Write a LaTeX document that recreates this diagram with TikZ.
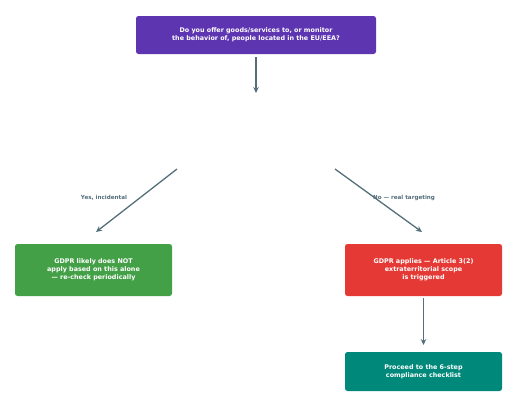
\documentclass[tikz,border=0pt]{standalone}
\usepackage{fontspec}
\setmainfont{DejaVu Sans}
\usetikzlibrary{arrows.meta}
\definecolor{cpurple}{HTML}{5E35B1}
\definecolor{cgreen}{HTML}{43A047}
\definecolor{cred}{HTML}{E53935}
\definecolor{cteal}{HTML}{00897B}
\definecolor{cedge}{HTML}{546E7A}
\tikzset{
  box/.style={rectangle, rounded corners=2.5pt, text=white, font=\fontsize{6.4}{8}\selectfont\bfseries, align=center, inner sep=0pt},
  conn/.style={draw=cedge, line width=1.3pt, -{Stealth[length=6pt,width=5.5pt]}},
  elabel/.style={text=cedge, font=\fontsize{5.6}{6.5}\selectfont\bfseries}
}
\begin{document}
\begin{tikzpicture}[x=1pt,y=-1pt]
\useasboundingbox (0,0) rectangle (512,405);
\node[box, fill=cpurple, minimum width=240pt, minimum height=38pt] (q) at (256,35) {Do you offer goods/services to, or monitor\\the behavior of, people located in the EU/EEA?};
\node[box, fill=cgreen, minimum width=157pt, minimum height=52pt] (no) at (93.5,270) {GDPR likely does NOT\\apply based on this alone\\— re-check periodically};
\node[box, fill=cred, minimum width=157pt, minimum height=52pt] (yes) at (423.5,270) {GDPR applies — Article 3(2)\\extraterritorial scope\\is triggered};
\node[box, fill=cteal, minimum width=157pt, minimum height=39pt] (step) at (423.5,371.5) {Proceed to the 6-step\\compliance checklist};
\coordinate (qend) at (256,93);
\coordinate (ls) at (177,169);
\coordinate (le) at (96,232);
\coordinate (rs) at (335,169);
\coordinate (re) at (422,232);
\coordinate (ys) at (423.5,298);
\coordinate (ye) at (423.5,345);
\draw[conn] (q.south) ++(0,3) -- (qend);
\draw[conn] (ls) -- (le);
\draw[conn] (rs) -- (re);
\draw[conn] (ys) -- (ye);
\node[elabel] (l1) at (104,198) {Yes, incidental};
\node[elabel] (l2) at (404,198) {No — real targeting};
\end{tikzpicture}
\end{document}
